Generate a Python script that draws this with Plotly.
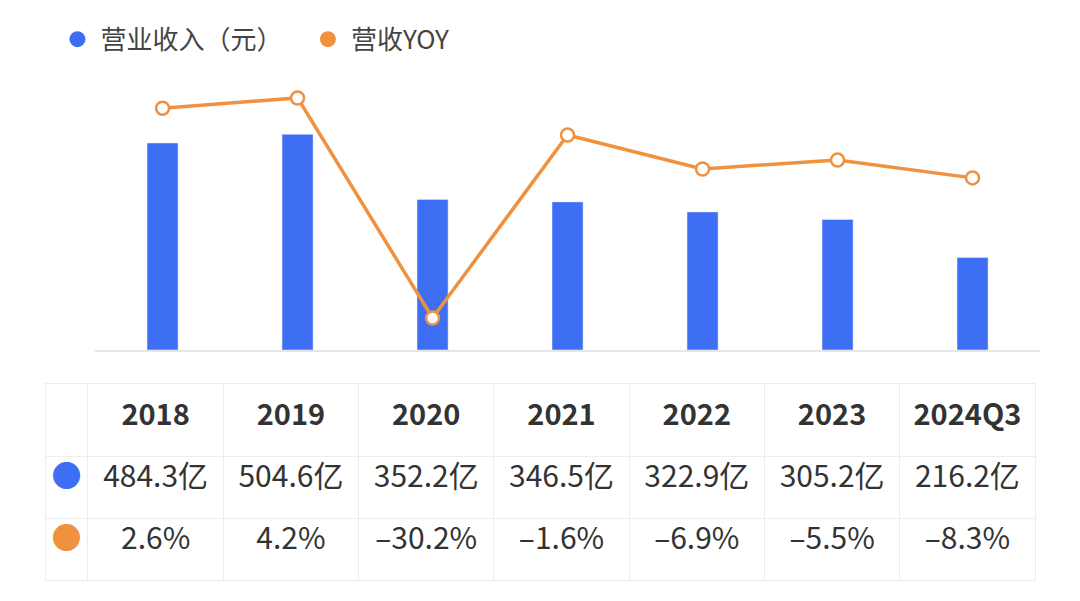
import plotly.graph_objects as go

years = ["2018", "2019", "2020", "2021", "2022", "2023", "2024Q3"]
revenue = [484.3, 504.6, 352.2, 346.5, 322.9, 305.2, 216.2]  # 亿元
yoy = [2.6, 4.2, -30.2, -1.6, -6.9, -5.5, -8.3]  # %

blue = "#3D6EF3"
orange = "#F0913F"
font_cn = "Noto Sans CJK SC"

rev_text = [f"{v:.1f}亿" for v in revenue]
yoy_text = [f"{v:.1f}%".replace("-", "–") for v in yoy]

fig = go.Figure()

fig.add_trace(go.Bar(
    x=years, y=revenue, name="营业收入（元）",
    marker_color=blue, width=0.23, showlegend=False,
))
fig.add_trace(go.Scatter(
    x=years, y=yoy, name="营收YOY", yaxis="y2",
    mode="lines+markers",
    line=dict(color=orange, width=3.5),
    marker=dict(size=13, color="white", line=dict(color=orange, width=2.5)),
    showlegend=False,
))

# legend entries drawn as plain dots
fig.add_trace(go.Scatter(x=[None], y=[None], mode="markers", name="营业收入（元）\u00a0\u00a0\u00a0",
                         marker=dict(size=20, color=blue)))
fig.add_trace(go.Scatter(x=[None], y=[None], mode="markers", name="营收YOY",
                         marker=dict(size=20, color=orange)))

# data table under the chart
cols = [["●", "●"]] + [[r, y] for r, y in zip(rev_text, yoy_text)]
cell_colors = [[blue, orange]] + ["#333333"] * len(years)
fig.add_trace(go.Table(
    domain=dict(x=[0.0343, 0.951], y=[0.0, 0.376]),
    columnwidth=[43] + [135.5] * len(years),
    header=dict(
        values=[""] + [f"<b>{y}</b>" for y in years],
        fill_color="white", line_color="#EDEDED",
        font=dict(family=font_cn, size=29, color="#333333"),
        align="center", height=73,
    ),
    cells=dict(
        values=cols,
        fill_color="white", line_color="#EDEDED",
        font=dict(family=font_cn, size=30, color=cell_colors),
        align="center", height=62,
    ),
))

fig.update_layout(
    width=1080, height=601,
    margin=dict(l=0, r=0, t=0, b=0),
    paper_bgcolor="white", plot_bgcolor="white",
    font=dict(family=font_cn, color="#333333"),
    xaxis=dict(domain=[0.0806, 0.9556], showticklabels=False, showgrid=False,
               zeroline=False, showline=True, linecolor="#E6E6E6", linewidth=1.5,
               ticks=""),
    yaxis=dict(domain=[0.431, 0.9135], range=[0, 678.5], visible=False),
    yaxis2=dict(overlaying="y", range=[-35.2, 10.13], visible=False),
    legend=dict(orientation="h", x=0.043, y=0.987, xanchor="left", yanchor="top",
                font=dict(family=font_cn, size=26, color="#444444"),
                itemwidth=36, bgcolor="rgba(0,0,0,0)"),
)

fig.write_html("out.html")
